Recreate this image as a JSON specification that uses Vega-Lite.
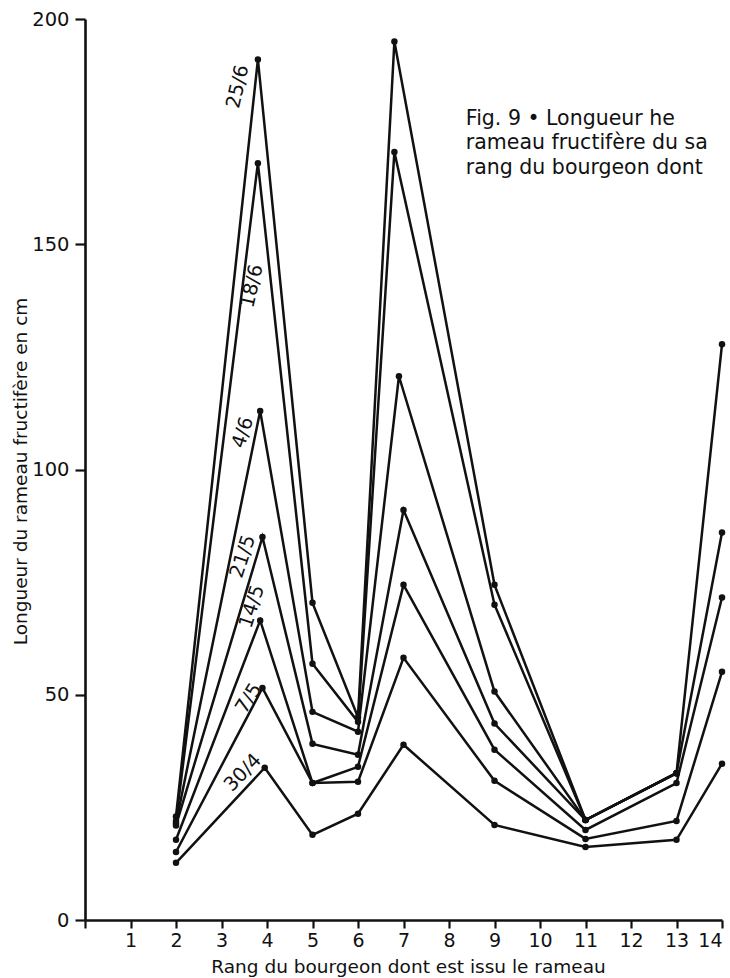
{
  "$schema": "https://vega.github.io/schema/vega-lite/v6.json",
  "autosize": {"type": "none"},
  "width": 637,
  "height": 901,
  "padding": {"left": 85, "top": 19, "right": 8, "bottom": 58},
  "background": "white",
  "config": {
    "view": {"stroke": null},
    "font": "DejaVu Sans",
    "axis": {"grid": false, "domainColor": "#111", "domainWidth": 2.6, "tickColor": "#111", "tickWidth": 2.2, "labelColor": "#111", "titleColor": "#111", "labelFont": "DejaVu Sans", "titleFont": "DejaVu Sans", "titleFontWeight": "normal"}
  },
  "datasets": {
    "series": [
      {"date": "25/6", "rank": 2, "value": 23},
      {"date": "25/6", "rank": 3.8, "value": 191},
      {"date": "25/6", "rank": 5, "value": 70.4},
      {"date": "25/6", "rank": 6, "value": 45},
      {"date": "25/6", "rank": 6.8, "value": 195},
      {"date": "25/6", "rank": 9, "value": 74.4},
      {"date": "25/6", "rank": 11, "value": 22.2},
      {"date": "25/6", "rank": 13, "value": 32.6},
      {"date": "18/6", "rank": 2, "value": 22},
      {"date": "18/6", "rank": 3.8, "value": 168},
      {"date": "18/6", "rank": 5, "value": 56.9},
      {"date": "18/6", "rank": 6, "value": 44},
      {"date": "18/6", "rank": 6.8, "value": 170.5},
      {"date": "18/6", "rank": 9, "value": 70},
      {"date": "18/6", "rank": 11, "value": 22.2},
      {"date": "18/6", "rank": 13, "value": 32.6},
      {"date": "4/6", "rank": 2, "value": 21.5},
      {"date": "4/6", "rank": 3.85, "value": 113},
      {"date": "4/6", "rank": 5, "value": 46.2},
      {"date": "4/6", "rank": 6, "value": 41.8},
      {"date": "4/6", "rank": 6.9, "value": 120.7},
      {"date": "4/6", "rank": 9, "value": 50.7},
      {"date": "4/6", "rank": 11, "value": 22.2},
      {"date": "4/6", "rank": 13, "value": 32.6},
      {"date": "4/6", "rank": 14, "value": 127.8},
      {"date": "21/5", "rank": 2, "value": 21},
      {"date": "21/5", "rank": 3.9, "value": 85},
      {"date": "21/5", "rank": 5, "value": 39.1},
      {"date": "21/5", "rank": 6, "value": 36.7},
      {"date": "21/5", "rank": 7, "value": 91},
      {"date": "21/5", "rank": 9, "value": 43.6},
      {"date": "21/5", "rank": 11, "value": 22.2},
      {"date": "21/5", "rank": 13, "value": 32.6},
      {"date": "21/5", "rank": 14, "value": 86},
      {"date": "14/5", "rank": 2, "value": 17.8},
      {"date": "14/5", "rank": 3.85, "value": 66.5},
      {"date": "14/5", "rank": 5, "value": 30.4},
      {"date": "14/5", "rank": 6, "value": 34},
      {"date": "14/5", "rank": 7, "value": 74.4},
      {"date": "14/5", "rank": 9, "value": 37.8},
      {"date": "14/5", "rank": 11, "value": 20},
      {"date": "14/5", "rank": 13, "value": 30.4},
      {"date": "14/5", "rank": 14, "value": 71.6},
      {"date": "7/5", "rank": 2, "value": 15.1},
      {"date": "7/5", "rank": 3.9, "value": 51.5},
      {"date": "7/5", "rank": 5, "value": 30.4},
      {"date": "7/5", "rank": 6, "value": 30.7},
      {"date": "7/5", "rank": 7, "value": 58.2},
      {"date": "7/5", "rank": 9, "value": 30.9},
      {"date": "7/5", "rank": 11, "value": 18},
      {"date": "7/5", "rank": 13, "value": 22},
      {"date": "7/5", "rank": 14, "value": 55.1},
      {"date": "30/4", "rank": 2, "value": 12.7},
      {"date": "30/4", "rank": 3.95, "value": 33.8},
      {"date": "30/4", "rank": 5, "value": 18.9},
      {"date": "30/4", "rank": 6, "value": 23.6},
      {"date": "30/4", "rank": 7, "value": 38.9},
      {"date": "30/4", "rank": 9, "value": 21.1},
      {"date": "30/4", "rank": 11, "value": 16.2},
      {"date": "30/4", "rank": 13, "value": 17.8},
      {"date": "30/4", "rank": 14, "value": 34.7}
    ],
    "labels": [
      {"label": "25/6", "group": "steep", "rank": 3.36, "value": 185},
      {"label": "18/6", "group": "steep", "rank": 3.67, "value": 140.7},
      {"label": "4/6", "group": "mid", "rank": 3.47, "value": 108.2},
      {"label": "21/5", "group": "mid", "rank": 3.47, "value": 80.7},
      {"label": "14/5", "group": "mid", "rank": 3.67, "value": 69.6},
      {"label": "7/5", "group": "low", "rank": 3.6, "value": 49.2},
      {"label": "30/4", "group": "flat", "rank": 3.47, "value": 32.7}
    ],
    "caption": [
      {"rank": 8.37, "value": 176.5, "text": ["Fig. 9 • Longueur he", "rameau fructifère du sa", "rang du bourgeon dont"]}
    ]
  },
  "layer": [
    {
      "data": {"name": "series"},
      "mark": {"type": "line", "color": "#111", "strokeWidth": 2.5},
      "encoding": {
        "x": {"field": "rank", "type": "quantitative", "scale": {"domain": [0, 14], "nice": false, "zero": false},
              "axis": {"title": "Rang du bourgeon dont est issu le rameau", "values": [0,1,2,3,4,5,6,7,8,9,10,11,12,13,14], "labelExpr": "datum.value == 0 ? '' : datum.label", "tickSize": 8, "labelPadding": 3, "labelFontSize": 19, "titleFontSize": 18.5, "titleX": 323, "titleY": 46, "titleBaseline": "middle", "titleAnchor": "middle"}},
        "y": {"field": "value", "type": "quantitative", "scale": {"domain": [0, 200], "nice": false},
              "axis": {"title": "Longueur du rameau fructifère en cm", "values": [0, 50, 100, 150, 200], "tickSize": 10, "labelPadding": 6, "labelFontSize": 19.5, "titleFontSize": 18.5, "titleX": -65, "titleY": 452, "titleBaseline": "middle", "titleAngle": -90, "titleAnchor": "middle"}},
        "detail": {"field": "date"},
        "order": {"field": "rank", "type": "quantitative"}
      }
    },
    {
      "data": {"name": "series"},
      "mark": {"type": "point", "filled": true, "color": "#111", "size": 42, "opacity": 1},
      "encoding": {
        "x": {"field": "rank", "type": "quantitative"},
        "y": {"field": "value", "type": "quantitative"}
      }
    },
    {
      "data": {"name": "labels"},
      "transform": [{"filter": "datum.group == 'steep'"}],
      "mark": {"type": "text", "angle": -77, "fontSize": 19.5, "color": "#111", "align": "center", "baseline": "middle"},
      "encoding": {
        "x": {"field": "rank", "type": "quantitative"},
        "y": {"field": "value", "type": "quantitative"},
        "text": {"field": "label"}
      }
    },
    {
      "data": {"name": "labels"},
      "transform": [{"filter": "datum.group == 'mid'"}],
      "mark": {"type": "text", "angle": -72, "fontSize": 19.5, "color": "#111", "align": "center", "baseline": "middle"},
      "encoding": {
        "x": {"field": "rank", "type": "quantitative"},
        "y": {"field": "value", "type": "quantitative"},
        "text": {"field": "label"}
      }
    },
    {
      "data": {"name": "labels"},
      "transform": [{"filter": "datum.group == 'low'"}],
      "mark": {"type": "text", "angle": -58, "fontSize": 19.5, "color": "#111", "align": "center", "baseline": "middle"},
      "encoding": {
        "x": {"field": "rank", "type": "quantitative"},
        "y": {"field": "value", "type": "quantitative"},
        "text": {"field": "label"}
      }
    },
    {
      "data": {"name": "labels"},
      "transform": [{"filter": "datum.group == 'flat'"}],
      "mark": {"type": "text", "angle": -46, "fontSize": 19.5, "color": "#111", "align": "center", "baseline": "middle"},
      "encoding": {
        "x": {"field": "rank", "type": "quantitative"},
        "y": {"field": "value", "type": "quantitative"},
        "text": {"field": "label"}
      }
    },
    {
      "data": {"name": "caption"},
      "mark": {"type": "text", "fontSize": 20.5, "color": "#111", "align": "left", "baseline": "alphabetic", "lineHeight": 24.5},
      "encoding": {
        "x": {"field": "rank", "type": "quantitative"},
        "y": {"field": "value", "type": "quantitative"},
        "text": {"field": "text"}
      }
    }
  ]
}
